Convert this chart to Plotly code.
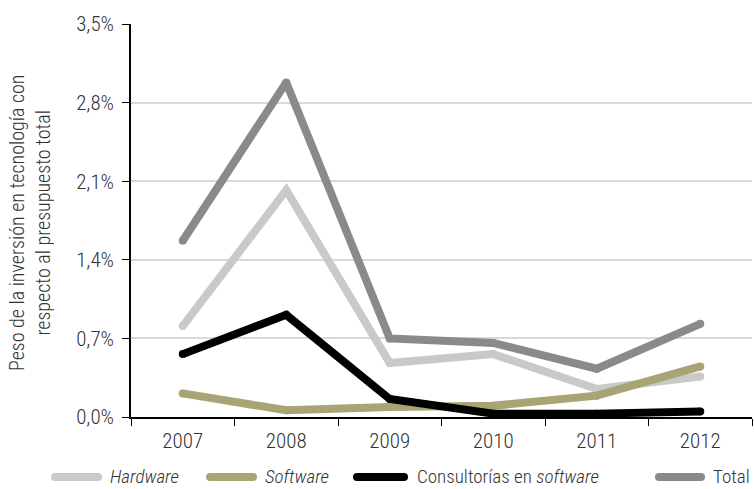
import plotly.graph_objects as go

years = ["2007", "2008", "2009", "2010", "2011", "2012"]
hardware = [0.81, 2.02, 0.48, 0.56, 0.25, 0.36]
software = [0.21, 0.06, 0.09, 0.10, 0.19, 0.45]
consultorias = [0.56, 0.91, 0.16, 0.03, 0.03, 0.05]
total = [1.57, 2.98, 0.70, 0.66, 0.43, 0.83]

series_names = ["<i>Hardware</i>", "<i>Software</i>", "Consultorías en <i>software</i>", "Total"]
series_values = [hardware, software, consultorias, total]
series_colors = ["#c9c9c9", "#a8a474", "#000000", "#8a8a8a"]

y_ticks = [0.0, 0.7, 1.4, 2.1, 2.8, 3.5]
y_tick_text = ["0,0%", "0,7%", "1,4%", "2,1%", "2,8%", "3,5%"]
y_title = "Peso de la inversión en tecnología con<br>respecto al presupuesto total"

FONT = "Roboto Condensed, Roboto, sans-serif"
TEXT_COLOR = "#333333"
LINE_W = 8

# plot area in pixels (for placing the legend row in paper coordinates)
W, H = 754, 489
L, R, T, B = 131, 2, 24, 72
PW, PH = W - L - R, H - T - B


def px_x(px):
    return (px - L) / PW


def px_y(py):
    return (H - B - py) / PH


fig = go.Figure()
for name, vals, col in zip(series_names, series_values, series_colors):
    # markers of the line's width give the round joins and ends
    fig.add_trace(go.Scatter(
        x=years, y=vals, name=name, mode="lines+markers",
        line=dict(color=col, width=LINE_W),
        marker=dict(color=col, size=LINE_W, line=dict(width=0)),
        showlegend=False,
    ))

# legend row below the axis: swatch start/end and label start, in pixels
legend_slots = [(55, 98, 108), (210, 253, 263), (357, 404, 415), (659, 701, 711)]
sw_y = 477
r = LINE_W / 2
for (x0, x1, xt), name, col in zip(legend_slots, series_names, series_colors):
    fig.add_shape(type="line", xref="paper", yref="paper",
                  x0=px_x(x0), x1=px_x(x1), y0=px_y(sw_y), y1=px_y(sw_y),
                  line=dict(color=col, width=LINE_W))
    for cx in (x0, x1):
        fig.add_shape(type="circle", xref="paper", yref="paper",
                      x0=px_x(cx - r), x1=px_x(cx + r),
                      y0=px_y(sw_y + r), y1=px_y(sw_y - r),
                      fillcolor=col, line=dict(width=0))
    fig.add_annotation(xref="paper", yref="paper", x=px_x(xt), y=px_y(476.5),
                       xanchor="left", yanchor="middle", showarrow=False,
                       text=name, font=dict(size=19, color=TEXT_COLOR, weight=300))

fig.add_annotation(xref="paper", yref="paper", x=px_x(30), y=px_y(223),
                   xanchor="center", yanchor="middle", showarrow=False, textangle=-90,
                   text=y_title, font=dict(size=20, color=TEXT_COLOR, weight=300))

fig.update_layout(
    width=W, height=H,
    margin=dict(l=L, r=R, t=T, b=B, autoexpand=False),
    paper_bgcolor="white", plot_bgcolor="white",
    font=dict(family=FONT, size=21, color=TEXT_COLOR, weight=300),
    showlegend=False,
    xaxis=dict(
        type="category", range=[-0.5, 5.5],
        showline=True, linecolor="#000000", linewidth=1.5,
        ticks="outside", tickson="boundaries", ticklen=7, tickcolor="#000000",
        showgrid=False, tickfont=dict(size=21, weight=300), ticklabelstandoff=4,
    ),
    yaxis=dict(
        range=[0, 3.5], tickvals=y_ticks, ticktext=y_tick_text,
        showline=True, linecolor="#000000", linewidth=1.5,
        ticks="outside", ticklen=7, tickcolor="#000000",
        showgrid=True, gridcolor="#d9d9d9", gridwidth=1.5,
        zeroline=False, tickfont=dict(size=21, weight=300), ticklabelstandoff=4,
    ),
)

fig.write_html("out.html")
